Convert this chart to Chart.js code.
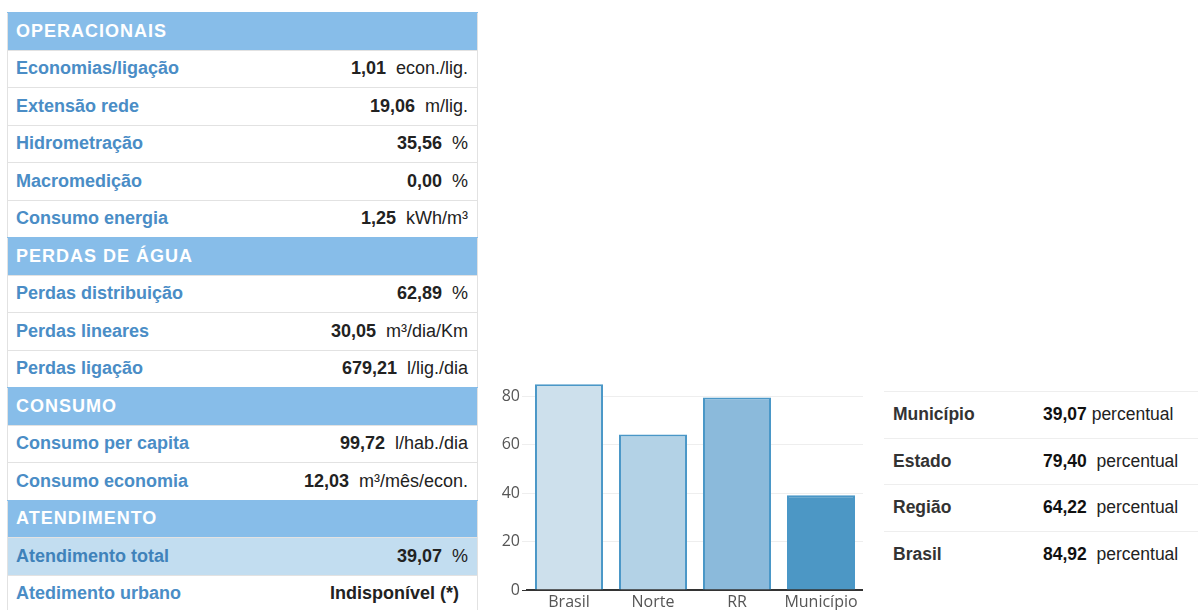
<!DOCTYPE html>
<html>
<head>
<meta charset="utf-8">
<script src="https://cdn.jsdelivr.net/npm/chart.js@4"></script>
<style>
  html, body { margin: 0; padding: 0; background: #fff; overflow: hidden; width: 1198px; height: 610px; }
  body { font-family: "Liberation Sans", Arial, sans-serif; position: relative; }
  #indicadores { position: absolute; left: 7px; top: 12px; width: 471px; border-collapse: collapse; border: 1px solid #e2e2e2; }
  #indicadores td { height: 37.5px; padding: 0 9px 0 8px; border-top: 1px solid #e2e2e2; font-size: 18px; box-sizing: border-box; }
  #indicadores tr.cab td { background: #87bde9; color: #fff; font-weight: bold; font-size: 18px; letter-spacing: 1px; border-color: #87bde9; }
  #indicadores td.rot { color: #4a8dc6; font-weight: bold; }
  #indicadores td.val { text-align: right; color: #222; white-space: pre; }
  #indicadores tr.sel td { background: #c2ddf0; }
  #indicadores tr.sel td.rot { color: #3f82ba; }
  #grafico { position: absolute; left: 490px; top: 370px; width: 373px; height: 260px; }
  #comparativo { position: absolute; left: 884px; top: 391px; width: 314px; border-collapse: collapse; }
  #comparativo td { height: 46.5px; border-top: 1px solid #eee; font-size: 17.5px; color: #222; padding: 0; box-sizing: border-box; white-space: pre; }
  #comparativo td.rot { font-weight: bold; padding-left: 9px; width: 159px; color: #333; }
  #comparativo td b { color: #111; }
</style>
</head>
<body>
<table id="indicadores">
  <tr class="cab"><td colspan="2">OPERACIONAIS</td></tr>
  <tr><td class="rot">Economias/ligação</td><td class="val"><b>1,01</b>  econ./lig.</td></tr>
  <tr><td class="rot">Extensão rede</td><td class="val"><b>19,06</b>  m/lig.</td></tr>
  <tr><td class="rot">Hidrometração</td><td class="val"><b>35,56</b>  %</td></tr>
  <tr><td class="rot">Macromedição</td><td class="val"><b>0,00</b>  %</td></tr>
  <tr><td class="rot">Consumo energia</td><td class="val"><b>1,25</b>  kWh/m³</td></tr>
  <tr class="cab"><td colspan="2">PERDAS DE ÁGUA</td></tr>
  <tr><td class="rot">Perdas distribuição</td><td class="val"><b>62,89</b>  %</td></tr>
  <tr><td class="rot">Perdas lineares</td><td class="val"><b>30,05</b>  m³/dia/Km</td></tr>
  <tr><td class="rot">Perdas ligação</td><td class="val"><b>679,21</b>  l/lig./dia</td></tr>
  <tr class="cab"><td colspan="2">CONSUMO</td></tr>
  <tr><td class="rot">Consumo per capita</td><td class="val"><b>99,72</b>  l/hab./dia</td></tr>
  <tr><td class="rot">Consumo economia</td><td class="val"><b>12,03</b>  m³/mês/econ.</td></tr>
  <tr class="cab"><td colspan="2">ATENDIMENTO</td></tr>
  <tr class="sel"><td class="rot">Atendimento total</td><td class="val"><b>39,07</b>  %</td></tr>
  <tr><td class="rot">Atedimento urbano</td><td class="val" style="padding-right:18px"><b>Indisponível (*)</b></td></tr>
</table>

<div id="grafico"><canvas id="barras"></canvas></div>

<table id="comparativo">
  <tr><td class="rot">Município</td><td><b>39,07</b> percentual</td></tr>
  <tr><td class="rot">Estado</td><td><b>79,40</b>  percentual</td></tr>
  <tr><td class="rot">Região</td><td><b>64,22</b>  percentual</td></tr>
  <tr><td class="rot">Brasil</td><td><b>84,92</b>  percentual</td></tr>
</table>

<script>
const categorias = ['Brasil', 'Norte', 'RR', 'Município'];
const atendimento = [84.92, 64.22, 79.40, 39.07];
const ticksY = [0, 20, 40, 60, 80];
const cores = ['#cde0ec', '#b3d2e6', '#8bbadb', '#4c97c5'];

document.addEventListener('DOMContentLoaded', function () {
    const data = {
        labels: categorias,
        datasets: [{
            data: atendimento,
            backgroundColor: cores,
            borderColor: '#4a97c7',
            borderWidth: 2,
            borderSkipped: 'bottom',
            categoryPercentage: 1,
            barPercentage: 0.81
        }]
    };
    const config = {
        type: 'bar',
        data: data,
        options: {
            responsive: true,
            maintainAspectRatio: false,
            animation: false,
            layout: { padding: { top: 11, right: 0, left: 0, bottom: 0 } },
            plugins: {
                legend: { display: false },
                tooltip: { enabled: false }
            },
            scales: {
                x: {
                    grid: { display: false, drawTicks: false },
                    border: { color: '#333', width: 2 },
                    ticks: { color: '#555', font: { family: 'Open Sans', size: 16 }, padding: 3 },
                    afterFit: function (s) { s.height = 40; }
                },
                y: {
                    min: 0,
                    max: 86,
                    afterBuildTicks: function (s) { s.ticks = ticksY.map(v => ({ value: v })); },
                    grid: {
                        color: ctx => ctx.tick && ctx.tick.value === 0 ? '#333' : '#eeeeee',
                        tickLength: 5
                    },
                    border: { display: false },
                    ticks: { color: '#555', font: { family: 'Open Sans', size: 16 }, padding: 2 },
                    afterFit: function (s) { s.width = 37; }
                }
            }
        }
    };
    new Chart(document.getElementById('barras'), config);
});
</script>
</body>
</html>
